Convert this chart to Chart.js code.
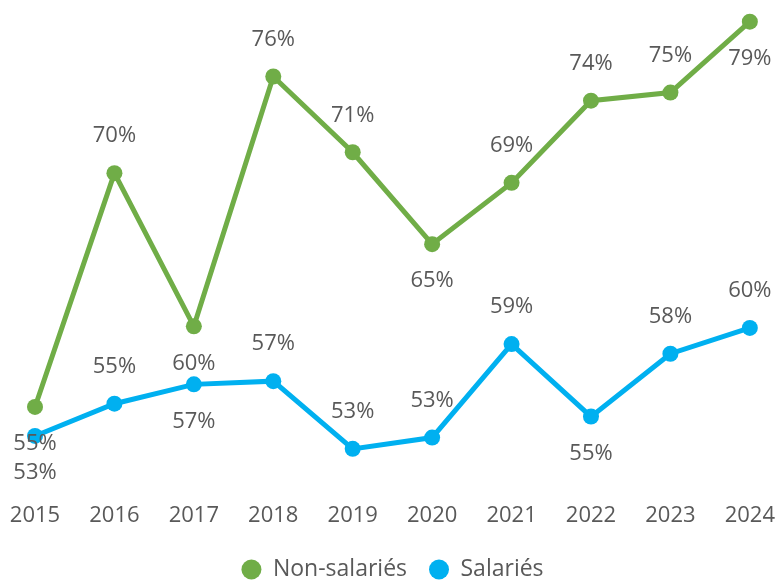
<!DOCTYPE html>
<html>
<head>
<meta charset="utf-8">
<script src="https://cdn.jsdelivr.net/npm/chart.js@4"></script>
<style>
  html, body { margin: 0; padding: 0; background: #fff; }
  #wrap { width: 782px; height: 586px; }
</style>
</head>
<body>
<div id="wrap"><canvas id="myChart"></canvas></div>
<script>
const years = ["2015", "2016", "2017", "2018", "2019", "2020", "2021", "2022", "2023", "2024"];
const non_salaries = [55.5, 70.0, 60.5, 76.0, 71.3, 65.6, 69.4, 74.5, 75.0, 79.4];
const salaries = [53.7, 55.7, 56.9, 57.1, 52.9, 53.6, 59.4, 54.9, 58.8, 60.4];
const non_salaries_labels = ["55%", "70%", "60%", "76%", "71%", "65%", "69%", "74%", "75%", "79%"];
const salaries_labels = ["53%", "55%", "57%", "57%", "53%", "53%", "59%", "55%", "58%", "60%"];
// where each value label sits: above or below the point
const non_salaries_pos = ["below", "above", "below", "above", "above", "below", "above", "above", "above", "below"];
const salaries_pos = ["below", "above", "below", "above", "above", "above", "above", "below", "above", "above"];

const GREEN = "#70AD47";
const BLUE = "#00B0F0";
const TEXT = "#595959";
const FONT = "'Open Sans', sans-serif";

// small home-made value label plugin
const valueLabels = {
  id: "valueLabels",
  afterDatasetsDraw(chart) {
    const ctx = chart.ctx;
    ctx.save();
    ctx.font = "22px " + FONT;
    ctx.fillStyle = TEXT;
    ctx.textAlign = "center";
    ctx.textBaseline = "middle";
    chart.data.datasets.forEach((ds, i) => {
      const meta = chart.getDatasetMeta(i);
      meta.data.forEach((pt, j) => {
        const dy = ds.labelPos[j] == "above" ? -37 : 37;
        ctx.fillText(ds.labelText[j], pt.x, pt.y + dy);
      });
    });
    ctx.restore();
  },
};

const ctx = document.getElementById("myChart").getContext("2d");
const my_chart = new Chart(ctx, {
  type: "line",
  data: {
    labels: years,
    datasets: [
      {
        label: "Non-salariés",
        data: non_salaries,
        labelText: non_salaries_labels,
        labelPos: non_salaries_pos,
        borderColor: GREEN,
        backgroundColor: GREEN,
        borderWidth: 5,
        pointRadius: 8,
        pointBorderWidth: 0,
        pointBackgroundColor: GREEN,
        tension: 0,
        clip: false,
      },
      {
        label: "Salariés",
        data: salaries,
        labelText: salaries_labels,
        labelPos: salaries_pos,
        borderColor: BLUE,
        backgroundColor: BLUE,
        borderWidth: 5,
        pointRadius: 8,
        pointBorderWidth: 0,
        pointBackgroundColor: BLUE,
        tension: 0,
        clip: false,
      },
    ],
  },
  options: {
    responsive: true,
    maintainAspectRatio: false,
    animation: false,
    layout: {
      padding: { left: 35, right: 32, top: 12, bottom: -5 },
    },
    scales: {
      x: {
        offset: false,
        grid: { display: false, drawTicks: false },
        border: { display: false },
        ticks: {
          color: TEXT,
          font: { family: FONT, size: 22 },
          padding: 7,
          maxRotation: 0,
        },
      },
      y: {
        display: false,
        min: 50,
        max: 80,
      },
    },
    plugins: {
      legend: {
        position: "bottom",
        labels: {
          usePointStyle: true,
          pointStyle: "circle",
          boxHeight: 14,
          pointStyleWidth: 20,
          color: TEXT,
          font: { family: FONT, size: 23 },
          padding: 22,
        },
      },
      tooltip: { enabled: false },
    },
  },
  plugins: [valueLabels],
});
</script>
</body>
</html>
